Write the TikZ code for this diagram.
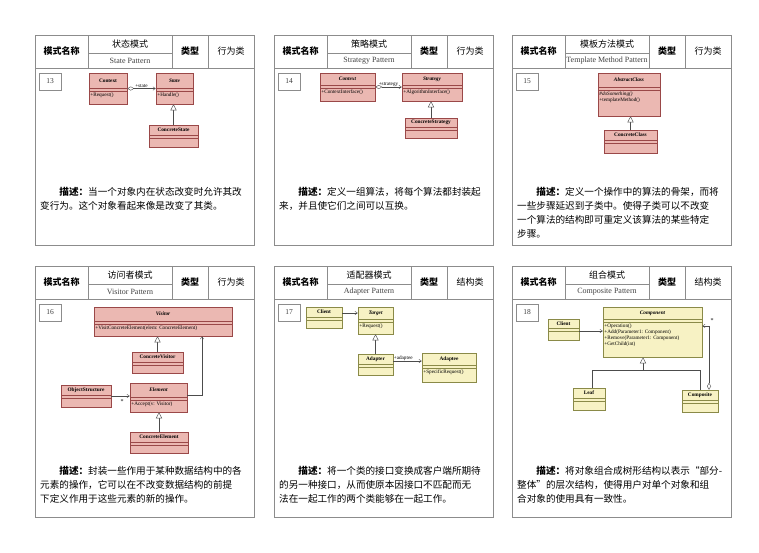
\documentclass[tikz,border=0pt]{standalone}
\usepackage{fontspec}
\setmainfont{Liberation Serif}
\newfontfamily\cjk{Noto Sans CJK SC}
\usetikzlibrary{arrows.meta}
\definecolor{pkf}{HTML}{EBB8B2}
\definecolor{pkd}{HTML}{9A4848}
\definecolor{ylf}{HTML}{F7F2C4}
\definecolor{yld}{HTML}{8A8A48}
\definecolor{frm}{HTML}{8C8C8C}
\tikzset{
 pk/.style={draw=pkd,fill=pkf,line width=0.5pt},
 yl/.style={draw=yld,fill=ylf,line width=0.5pt},
 pkline/.style={draw=pkd,line width=0.4pt},
 ylline/.style={draw=yld,line width=0.4pt},
 umltxt/.style={inner sep=0pt,font=\fontsize{5.2}{5.8}\selectfont,align=left},
 gen/.style={draw=black!70,line width=0.4pt,-{Triangle[open,length=6pt,width=6pt,fill=white]}},
 assoc/.style={draw=black!70,line width=0.4pt,-{Straight Barb[length=2.5pt,width=3.5pt]}},
 agg/.style={draw=black!70,line width=0.4pt,{Diamond[open,length=7pt,width=4pt,fill=white]}-{Straight Barb[length=2.5pt,width=3.5pt]}},
 frame/.style={draw=frm,line width=0.6pt},
 hdr/.style={inner sep=0pt,font=\cjk\fontsize{9}{10}\selectfont},
 desc/.style={inner sep=0pt,anchor=north west,text width=212pt,align=left,font=\cjk\fontsize{9.6}{14}\selectfont},
}
% #1 name #2 color #3 x1 #4 y1 #5 x2 #6 y2 #7 title height #8 title #9 ops
\newcommand\umlc[9]{%
 \node[#2,minimum width={(#5-#3)*1pt},minimum height={(#6-#4)*1pt},inner sep=0pt] (#1) at ({(#3+#5)/2},{(#4+#6)/2}) {};
 \draw[#2line] (#3,{#4+#7}) -- (#5,{#4+#7});
 \draw[#2line] (#3,{#4+#7+3.5}) -- (#5,{#4+#7+3.5});
 \node[umltxt,font=\fontsize{5.3}{5.8}\selectfont\bfseries] at ({(#3+#5)/2},{#4+#7/2}) {#8};
 \node[umltxt,anchor=north west] at ({#3+1.2},{#4+#7+4.8}) {#9};
}
% #1 x #2 y #3 h #4 cn #5 en #6 type #7 num
\newcommand\card[7]{%
 \draw[frame] (#1,#2) rectangle ({#1+219},{#2+#3});
 \draw[frame] (#1,{#2+33}) -- ({#1+219},{#2+33});
 \draw[frame] ({#1+53},#2) -- ({#1+53},{#2+33});
 \draw[frame] ({#1+137},#2) -- ({#1+137},{#2+33});
 \draw[frame] ({#1+173},#2) -- ({#1+173},{#2+33});
 \draw[frame] ({#1+53},{#2+18}) -- ({#1+137},{#2+18});
 \node[hdr,font=\cjk\fontsize{9}{10}\selectfont\bfseries] at ({#1+26.5},{#2+16.5}) {模式名称};
 \node[hdr] at ({#1+95},{#2+9}) {#4};
 \node[inner sep=0pt,font=\fontsize{8}{9}\selectfont,text=black!75] at ({#1+95},{#2+25.5}) {#5};
 \node[hdr,font=\cjk\fontsize{9}{10}\selectfont\bfseries] at ({#1+155},{#2+16.5}) {类型};
 \node[hdr] at ({#1+196},{#2+16.5}) {#6};
 \draw[frame,line width=0.4pt] ({#1+4},{#2+38}) rectangle ({#1+26},{#2+55});
 \node[inner sep=0pt,font=\fontsize{7.5}{8}\selectfont,text=black!75] at ({#1+15},{#2+46.5}) {#7};
}
\begin{document}
\begin{tikzpicture}[x=1pt,y=-1pt]
\useasboundingbox[fill=white] (0,0) rectangle (759,552);
\card{35}{35}{210}{状态模式}{State Pattern}{行为类}{13}
\card{274}{35}{210}{策略模式}{Strategy Pattern}{行为类}{14}
\card{512}{35}{210}{模板方法模式}{Template Method Pattern}{行为类}{15}
\card{35}{266}{251}{访问者模式}{Visitor Pattern}{行为类}{16}
\card{274}{266}{251}{适配器模式}{Adapter Pattern}{结构类}{17}
\card{512}{266}{251}{组合模式}{Composite Pattern}{结构类}{18}

% 13
\umlc{ctx1}{pk}{89}{73}{127}{104}{15}{Context}{+Request()}
\umlc{st1}{pk}{156}{73}{193}{104}{15}{\itshape State}{+Handle()}
\umlc{cs1}{pk}{149}{125}{198}{147}{10}{ConcreteState}{}
\draw[agg] (ctx1.east) -- (st1.west) node[midway,above=0.5pt,umltxt]{+state};
\draw[gen] (cs1.north) -- (cs1.north |- st1.south);

% 14
\umlc{ctx2}{pk}{320}{73}{375}{101}{12}{\itshape Context}{+ContextInterface()}
\umlc{sg2}{pk}{402}{73}{462}{101}{12}{\itshape Strategy}{+AlgorithmInterface()}
\umlc{cs2}{pk}{405}{118}{457}{138}{9}{ConcreteStrategy}{}
\draw[agg] (ctx2.east) -- (sg2.west) node[midway,above=0.5pt,umltxt]{+strategy};
\draw[gen] (cs2.north) -- (cs2.north |- sg2.south);

% 15
\umlc{ac3}{pk}{598}{73}{660}{116}{14}{\itshape AbstractClass}{\itshape \#doSomething()\\+templateMethod()}
\umlc{cc3}{pk}{604}{130}{657}{153}{10}{ConcreteClass}{}
\draw[gen] (cc3.north) -- (cc3.north |- ac3.south);

% 16
\umlc{vi4}{pk}{94}{307}{232}{336}{14}{\itshape Visitor}{+VisitConcreteElement(elem: ConcreteElement)}
\umlc{cv4}{pk}{132}{352}{183}{373}{10}{ConcreteVisitor}{}
\umlc{os4}{pk}{61}{385}{111}{407}{10}{ObjectStructure}{}
\umlc{el4}{pk}{130}{383}{187}{412}{14}{\itshape Element}{+Accept(v: Visitor)}
\umlc{ce4}{pk}{130}{432}{188}{453}{10}{ConcreteElement}{}
\draw[gen] (cv4.north) -- (cv4.north |- vi4.south);
\draw[gen] (ce4.north) -- (ce4.north |- el4.south);
\coordinate (bend4) at (202,395);
\draw[assoc] (el4.east |- bend4) -- (bend4) -- (bend4 |- vi4.south);
\draw[assoc] (os4.east |- 0,396) -- (el4.west |- 0,396);
\node[umltxt,font=\fontsize{6}{6}\selectfont] at (122,402) {*};

% 17
\umlc{cl5}{yl}{306}{307}{342}{328}{10}{Client}{}
\umlc{tg5}{yl}{358}{307}{393}{334}{12}{\itshape Target}{+Request()}
\umlc{ad5}{yl}{358}{354}{393}{375}{10}{Adapter}{}
\umlc{ae5}{yl}{422}{353}{476}{382}{12}{Adaptee}{+SpecificRequest()}
\draw[assoc] (cl5.east |- 0,313) -- (tg5.west |- 0,313);
\draw[gen] (ad5.north) -- (tg5.south);
\draw[assoc] (ad5.east |- 0,361) -- (ae5.west |- 0,361) node[pos=0.35,above=0.5pt,umltxt]{+adaptee};

% 18
\umlc{cp6}{yl}{603}{307}{702}{357}{12}{\itshape Component}{+Operation()\\+Add(Parameter1: Component)\\+Remove(Parameter1: Component)\\+GetChild(int)}
\umlc{cl6}{yl}{548}{319}{579}{340}{9}{Client}{}
\umlc{lf6}{yl}{573}{388}{605}{410}{10}{Leaf}{}
\umlc{co6}{yl}{682}{390}{718}{412}{10}{Composite}{}
\draw[assoc] (cl6.east |- 0,331) -- (cp6.west |- 0,331);
\coordinate (tri6) at (643,370);
\draw[gen] (tri6) -- (tri6 |- cp6.south);
\draw[draw=black!70,line width=0.4pt] (lf6.north -| 592,0) -- (592,370) -- (700,370) -- (co6.north -| 700,0);
\coordinate (ag6) at (709,326);
\draw[agg] (co6.north -| ag6) -- (ag6) -- (cp6.east |- ag6);
\node[umltxt,font=\fontsize{6}{6}\selectfont] at (712,321) {*};

% descriptions
\node[desc] at (40,187) {\hspace*{2em}\textbf{描述：}当一个对象内在状态改变时允许其改\\变行为。这个对象看起来像是改变了其类。};
\node[desc] at (279,187) {\hspace*{2em}\textbf{描述：}定义一组算法，将每个算法都封装起\\来，并且使它们之间可以互换。};
\node[desc] at (517,187) {\hspace*{2em}\textbf{描述：}定义一个操作中的算法的骨架，而将\\一些步骤延迟到子类中。使得子类可以不改变\\一个算法的结构即可重定义该算法的某些特定\\步骤。};
\node[desc] at (40,466) {\hspace*{2em}\textbf{描述：}封装一些作用于某种数据结构中的各\\元素的操作，它可以在不改变数据结构的前提\\下定义作用于这些元素的新的操作。};
\node[desc] at (279,466) {\hspace*{2em}\textbf{描述：}将一个类的接口变换成客户端所期待\\的另一种接口，从而使原本因接口不匹配而无\\法在一起工作的两个类能够在一起工作。};
\node[desc] at (517,466) {\hspace*{2em}\textbf{描述：}将对象组合成树形结构以表示“部分-\\整体”的层次结构，使得用户对单个对象和组\\合对象的使用具有一致性。};
\end{tikzpicture}
\end{document}
